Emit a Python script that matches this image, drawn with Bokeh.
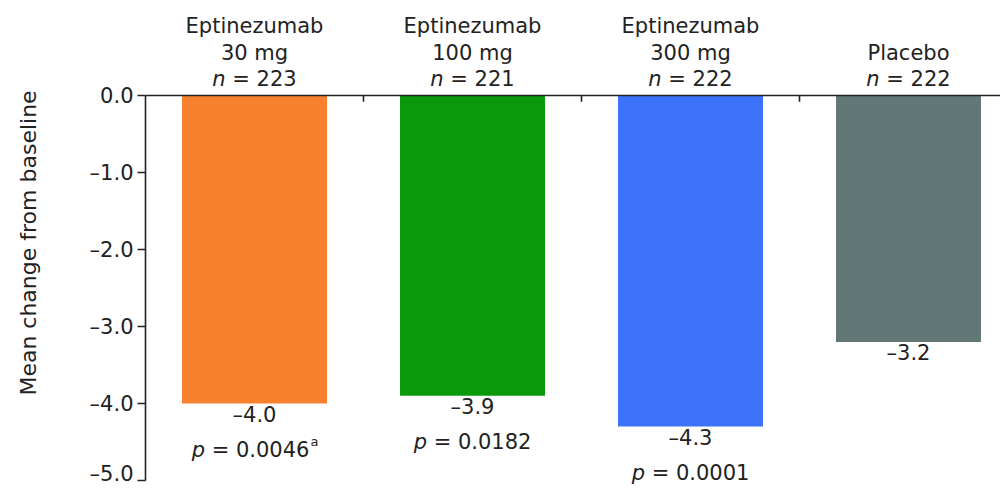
from bokeh.plotting import figure
from bokeh.models import Range1d, Span, FixedTicker, ColumnDataSource
from bokeh.core.properties import value
from bokeh.embed import file_html
from bokeh.resources import INLINE

# ---- data ----
header_line1 = ["Eptinezumab", "Eptinezumab", "Eptinezumab", ""]
header_line2 = ["30 mg", "100 mg", "300 mg", "Placebo"]
n_values = ["223", "221", "222", "222"]
mean_change = [-4.0, -3.9, -4.3, -3.2]
value_labels = ["\u20134.0", "\u20133.9", "\u20134.3", "\u20133.2"]
p_values = ["0.0046", "0.0182", "0.0001", ""]
p_notes = ["a", "", "", ""]
colors = ["#F8812F", "#0A990A", "#3D73FA", "#627876"]
y_ticks = [0, -1, -2, -3, -4, -5]
y_tick_labels = ["0.0", "\u20131.0", "\u20132.0", "\u20133.0", "\u20134.0", "\u20135.0"]
y_title = "Mean change from baseline"

FONT = "DejaVu Sans"
TXT = "#222222"
FS = 21          # main text size (px)
FS_SUP = 13

# approximate DejaVu Sans advance widths (em)
ADV = {"0": .636, "1": .636, "2": .636, "3": .636, "4": .636, "5": .636,
       "6": .636, "7": .636, "8": .636, "9": .636, ".": .318, "=": .838,
       " ": .318, "\u2013": .5, "n": .634, "p": .635, "a": .613}


def tw(s, fs=FS):
    return sum(ADV.get(c, .6) for c in s) * fs


x = [i + 0.5 for i in range(len(mean_change))]
boundaries = [i for i in range(1, len(mean_change))]

W, H = 1000, 485
LEFT = 145
ZERO_PX = 95
PX_PER_UNIT = 77.0
x_end = (W - LEFT) / 218.0

p = figure(width=W, height=H, output_backend="svg", toolbar_location=None,
           x_range=Range1d(0, x_end),
           y_range=Range1d(-(H - ZERO_PX) / PX_PER_UNIT, ZERO_PX / PX_PER_UNIT),
           x_axis_location=None, min_border_left=LEFT, min_border_right=0,
           min_border_top=0, min_border_bottom=0)
p.outline_line_color = None
p.grid.visible = False
p.background_fill_color = "white"

src = ColumnDataSource(dict(x=x, top=[0] * len(x), bottom=mean_change, color=colors))
p.vbar(x="x", top="top", bottom="bottom", width=0.665, fill_color="color",
       line_color=None, source=src)

# top zero line with inward ticks at category boundaries
p.add_layout(Span(location=0, dimension="width", line_color=TXT, line_width=1.6))
p.segment(x0=boundaries, y0=[0] * len(boundaries), x1=boundaries,
          y1=[-0.08] * len(boundaries), line_color=TXT, line_width=1.6)

common = dict(text_font=value(FONT), text_color=TXT, text_font_size=f"{FS}px")

# headers
p.text(x=x, y=[0] * len(x), text=header_line1, y_offset=[-70] * len(x),
       text_align="center", text_baseline="middle", **common)
p.text(x=x, y=[0] * len(x), text=header_line2, y_offset=[-43] * len(x),
       text_align="center", text_baseline="middle", **common)

n_rest = ["= " + v for v in n_values]
n_full = [tw("n ") + tw(r) for r in n_rest]
p.text(x=x, y=[0] * len(x), text=["n"] * len(x),
       x_offset=[-f / 2 + tw("n") for f in n_full], y_offset=[-17] * len(x),
       text_align="right", text_baseline="middle", text_font_style="italic", **common)
p.text(x=x, y=[0] * len(x), text=n_rest,
       x_offset=[-f / 2 + tw("n ") for f in n_full], y_offset=[-17] * len(x),
       text_align="left", text_baseline="middle", **common)

# value labels under bars
p.text(x=x, y=mean_change, text=value_labels, y_offset=[11] * len(x),
       text_align="center", text_baseline="middle", **common)

# p-values
idx = [i for i, v in enumerate(p_values) if v]
px = [x[i] for i in idx]
py = [mean_change[i] for i in idx]
p_rest = ["= " + p_values[i] for i in idx]
p_sup = [p_notes[i] for i in idx]
p_full = [tw("p ") + tw(r) + tw(s, FS_SUP) for r, s in zip(p_rest, p_sup)]
P_OFF = 46
p.text(x=px, y=py, text=["p"] * len(px),
       x_offset=[-f / 2 + tw("p") for f in p_full], y_offset=[P_OFF] * len(px),
       text_align="right", text_baseline="middle", text_font_style="italic", **common)
p.text(x=px, y=py, text=p_rest,
       x_offset=[-f / 2 + tw("p ") for f in p_full], y_offset=[P_OFF] * len(px),
       text_align="left", text_baseline="middle", **common)
p.text(x=px, y=py, text=p_sup,
       x_offset=[-f / 2 + tw("p ") + tw(r) + 1 for f, r in zip(p_full, p_rest)],
       y_offset=[P_OFF - 8] * len(px), text_align="left", text_baseline="middle",
       text_font=value(FONT), text_color=TXT, text_font_size=f"{FS_SUP}px")

# left axis
ax = p.yaxis[0]
ax.bounds = (-5, 0)
ax.ticker = FixedTicker(ticks=y_ticks)
ax.major_label_overrides = {t: l for t, l in zip(y_ticks, y_tick_labels)}
ax.minor_tick_line_color = None
ax.major_tick_out = 8
ax.major_tick_in = 0
ax.major_tick_line_width = 1.6
ax.major_tick_line_color = TXT
ax.axis_line_width = 1.6
ax.axis_line_color = TXT
ax.major_label_text_font = FONT
ax.major_label_text_font_size = "21px"
ax.major_label_text_color = TXT
ax.major_label_standoff = 4
ax.axis_label = y_title
ax.axis_label_text_font = FONT
ax.axis_label_text_font_size = "22px"
ax.axis_label_text_font_style = "normal"
ax.axis_label_text_color = TXT
ax.axis_label_standoff = 46

open("out.html", "w").write(file_html(p, INLINE))
